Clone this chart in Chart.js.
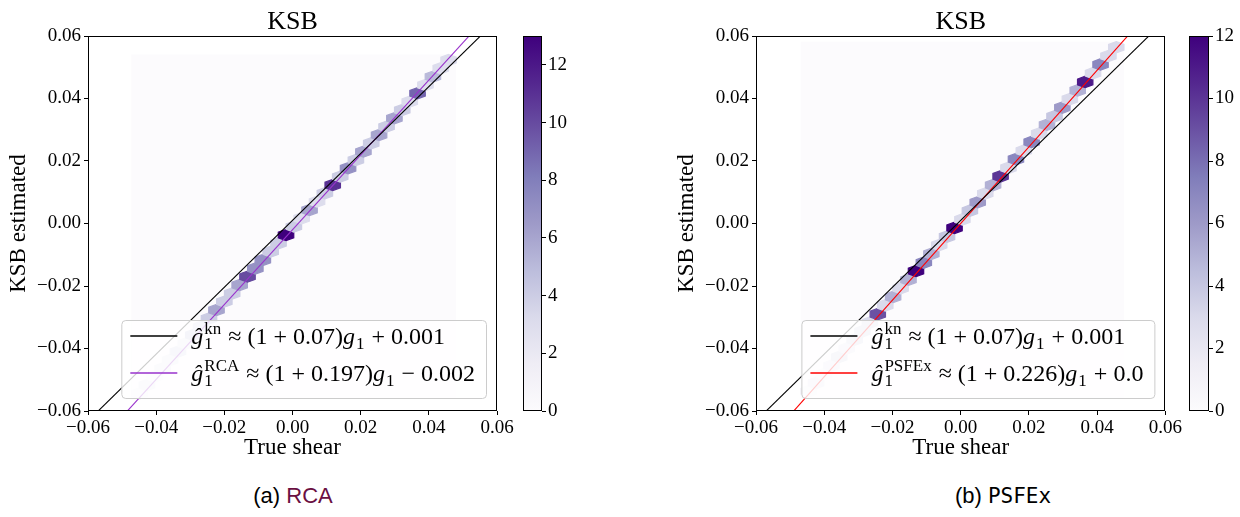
<!DOCTYPE html>
<html>
<head>
<meta charset="utf-8">
<script src="https://cdn.jsdelivr.net/npm/chart.js@4/dist/chart.umd.min.js"></script>
<style>
  body { margin: 0; background: #fff; width: 1240px; height: 517px; position: relative; overflow: hidden; }
  canvas { position: absolute; }
  .cap { position: absolute; top: 483px; font-size: 22px; font-family: "Liberation Sans", Arial, sans-serif; color: #000; white-space: nowrap; transform: translateX(-50%); }
</style>
</head>
<body>
<canvas id="hexRCA" width="517" height="470" style="left:0;top:0"></canvas>
<canvas id="barRCA" width="60" height="430" style="left:510px;top:0"></canvas>
<canvas id="hexPSF" width="516" height="470" style="left:668px;top:0"></canvas>
<canvas id="barPSF" width="64" height="430" style="left:1176px;top:0"></canvas>
<div class="cap" style="left:293px">(a) <span style="color:#6a0f42">RCA</span></div>
<div class="cap" style="left:1003px">(b) <span style="font-family:'DejaVu Sans Mono',monospace;font-size:21px">PSFEx</span></div>

<script>
// ---- data ----
var axisTicks = [-0.06, -0.04, -0.02, 0.0, 0.02, 0.04, 0.06];

// RCA panel: hex cell centres and counts
var rcaHexX = [-0.0449, -0.0427, -0.0404, -0.0381, -0.0359, -0.0336, -0.0313, -0.0291, -0.0268, -0.0245,
               -0.0223, -0.0200, -0.0177, -0.0155, -0.0132, -0.0109, -0.0087, -0.0064, -0.0041, -0.0019,
               0.0004, 0.0027, 0.0050, 0.0072, 0.0095, 0.0118, 0.0140, 0.0163, 0.0186, 0.0208,
               0.0231, 0.0254, 0.0276, 0.0299, 0.0322, 0.0344, 0.0367, 0.0390, 0.0412, 0.0435, 0.0458];
var rcaHexY = [-0.0544, -0.0517, -0.0490, -0.0464, -0.0437, -0.0410, -0.0384, -0.0357, -0.0330, -0.0304,
               -0.0277, -0.0250, -0.0224, -0.0197, -0.0170, -0.0144, -0.0117, -0.0090, -0.0063, -0.0037,
               -0.0010, 0.0017, 0.0043, 0.0070, 0.0097, 0.0123, 0.0150, 0.0177, 0.0203, 0.0230,
               0.0257, 0.0283, 0.0310, 0.0337, 0.0363, 0.0390, 0.0417, 0.0443, 0.0470, 0.0497, 0.0523];
var rcaHexCount = [1, 2, 1, 2, 2, 3, 2, 4, 3, 4,
                   6, 4, 4, 6, 10, 7, 7, 4, 4, 13,
                   4, 3, 6, 3, 4, 11, 4, 7, 4, 6,
                   4, 6, 4, 6, 4, 3, 9, 3, 5, 3, 3];
var rcaEmptyCells = [-0.0473, 0.0480, -0.0561, 0.0541];   // xmin, xmax, ymin, ymax of zero-count cells

// PSFEx panel
var psfHexX = [-0.0446, -0.0424, -0.0401, -0.0379, -0.0356, -0.0334, -0.0311, -0.0288, -0.0266,
               -0.0243, -0.0221, -0.0198, -0.0176, -0.0153, -0.0131, -0.0108, -0.0086, -0.0063, -0.0040,
               -0.0018, 0.0005, 0.0027, 0.0050, 0.0072, 0.0095, 0.0117, 0.0140, 0.0162, 0.0185,
               0.0208, 0.0230, 0.0253, 0.0275, 0.0298, 0.0320, 0.0343, 0.0365, 0.0388, 0.0410, 0.0433, 0.0456];
var psfHexY = [-0.0537, -0.0510, -0.0482, -0.0455, -0.0427, -0.0400, -0.0372, -0.0345, -0.0317,
               -0.0290, -0.0262, -0.0235, -0.0207, -0.0180, -0.0152, -0.0125, -0.0097, -0.0069, -0.0042,
               -0.0014, 0.0013, 0.0041, 0.0068, 0.0096, 0.0123, 0.0151, 0.0178, 0.0206, 0.0233,
               0.0261, 0.0288, 0.0316, 0.0343, 0.0371, 0.0398, 0.0426, 0.0453, 0.0481, 0.0509, 0.0536, 0.0564];
var psfHexCount = [1, 2, 1, 2, 3, 2, 3, 3, 3,
                   9, 3, 5, 3, 5, 12, 7, 5, 3, 4,
                   12, 3, 4, 6, 3, 5, 10, 3, 7, 3,
                   7, 3, 5, 4, 6, 3, 5, 11, 3, 7, 3, 3];
var psfEmptyCells = [-0.0469, 0.0479, -0.0556, 0.0582];

// linear fits: [multiplicative bias, additive bias]
var knFit = [0.07, 0.001];
var rcaFit = [0.197, -0.002];
var psfexFit = [0.226, 0.0];

// colour bars
var rcaBarMax = 13;
var psfBarMax = 12;
var barTicks = [0, 2, 4, 6, 8, 10, 12];

// ---- helpers ----
var SERIF = '"Liberation Serif", "DejaVu Serif", serif';
var purpleStops = ['#fcfbfd', '#efedf5', '#dadaeb', '#bcbddc', '#9e9ac8', '#807dba', '#6a51a3', '#54278f', '#3f007d'];

function hexToRgb(h) {
    return [parseInt(h.substr(1, 2), 16), parseInt(h.substr(3, 2), 16), parseInt(h.substr(5, 2), 16)];
}

function purpleAt(t) {
    t = Math.max(0, Math.min(1, t));
    var p = t * (purpleStops.length - 1);
    var i = Math.min(purpleStops.length - 2, Math.floor(p));
    var f = p - i;
    var a = hexToRgb(purpleStops[i]), b = hexToRgb(purpleStops[i + 1]);
    return 'rgb(' + Math.round(a[0] + (b[0] - a[0]) * f) + ',' +
        Math.round(a[1] + (b[1] - a[1]) * f) + ',' + Math.round(a[2] + (b[2] - a[2]) * f) + ')';
}

function fmtTick(v) {
    if (Math.abs(v) < 1e-9) v = 0;
    var s = Math.abs(v).toFixed(2);
    return v < 0 ? '\u2212' + s : s;
}

function fmtCoef(v) {
    var s = String(Math.abs(v));
    if (s.indexOf('.') < 0) s += '.0';
    return s;
}

function fitParts(name, fit) {
    var sign = fit[1] < 0 ? ' \u2212 ' : ' + ';
    return [
        {t: '\u011d', it: true}, {sup: name, sub: '1'},
        {t: ' \u2248 (1 + ' + fmtCoef(fit[0]) + ')'},
        {t: 'g', it: true}, {sub: '1'},
        {t: sign + fmtCoef(fit[1])}
    ];
}

function fitLine(fit) {
    return [-0.06, 0.06].map(function (x) {
        return {x: x, y: (1 + fit[0]) * x + fit[1]};
    });
}

// draw math-like text made of parts; returns width
function drawParts(ctx, parts, x, y, size, dry) {
    var cx = x;
    parts.forEach(function (p) {
        if (p.t !== undefined) {
            ctx.font = (p.it ? 'italic ' : '') + size + 'px ' + SERIF;
            if (!dry) ctx.fillText(p.t, cx, y);
            cx += ctx.measureText(p.t).width;
        } else {
            var s = Math.round(size * 0.72), w = 0;
            ctx.font = s + 'px ' + SERIF;
            if (p.sup) {
                if (!dry) ctx.fillText(p.sup, cx + 1, y - size * 0.42);
                w = Math.max(w, ctx.measureText(p.sup).width);
            }
            if (p.sub) {
                if (!dry) ctx.fillText(p.sub, cx + 1, y + size * 0.2);
                w = Math.max(w, ctx.measureText(p.sub).width);
            }
            cx += w + 2;
        }
    });
    return cx - x;
}

// hexagonal cells, drawn under the fit lines
var hexPlugin = {
    id: 'hexcells',
    beforeDatasetsDraw: function (chart, args, opts) {
        var ctx = chart.ctx, area = chart.chartArea;
        var xs = chart.scales.x, ys = chart.scales.y;
        ctx.save();
        ctx.beginPath();
        ctx.rect(area.left, area.top, area.width, area.height);
        ctx.clip();

        var e = opts.empty;
        ctx.fillStyle = purpleAt(0);
        ctx.fillRect(xs.getPixelForValue(e[0]), ys.getPixelForValue(e[3]),
            xs.getPixelForValue(e[1]) - xs.getPixelForValue(e[0]),
            ys.getPixelForValue(e[2]) - ys.getPixelForValue(e[3]));

        chart.data.datasets.forEach(function (ds, i) {
            if (!ds.counts) return;
            var meta = chart.getDatasetMeta(i);
            meta.data.forEach(function (pt, j) {
                var raw = ds.data[j];
                var hw = xs.getPixelForValue(raw.x + opts.sx / 2) - pt.x;
                var hp = pt.y - ys.getPixelForValue(raw.y + opts.sy / 3);
                var hs = hp / 2;
                var col = purpleAt(ds.counts[j] / opts.vmax);
                ctx.beginPath();
                ctx.moveTo(pt.x, pt.y - hp);
                ctx.lineTo(pt.x + hw, pt.y - hs);
                ctx.lineTo(pt.x + hw, pt.y + hs);
                ctx.lineTo(pt.x, pt.y + hp);
                ctx.lineTo(pt.x - hw, pt.y + hs);
                ctx.lineTo(pt.x - hw, pt.y - hs);
                ctx.closePath();
                ctx.fillStyle = col;
                ctx.strokeStyle = col;
                ctx.lineWidth = 1.2;
                ctx.fill();
                ctx.stroke();
            });
        });
        ctx.restore();
    }
};

// full box around the axes
var framePlugin = {
    id: 'frame',
    afterDatasetsDraw: function (chart) {
        var a = chart.chartArea, ctx = chart.ctx;
        ctx.save();
        ctx.strokeStyle = '#000';
        ctx.lineWidth = 1;
        ctx.strokeRect(Math.round(a.left) + 0.5, Math.round(a.top) + 0.5,
            Math.round(a.right - a.left) - 1, Math.round(a.bottom - a.top) - 1);
        ctx.restore();
    }
};

// legend with sub/superscripts, lower right of the axes
var mathLegend = {
    id: 'mathLegend',
    afterDraw: function (chart, args, opts) {
        if (!opts.entries) return;
        var ctx = chart.ctx, a = chart.chartArea, size = opts.size;
        ctx.save();
        ctx.textBaseline = 'alphabetic';
        var tw = 0;
        opts.entries.forEach(function (en) {
            tw = Math.max(tw, drawParts(ctx, en.parts, 0, 0, size, true));
        });
        var w = opts.textOffset + tw + opts.padRight;
        var h = opts.height;
        var right = a.right - opts.marginRight, bottom = a.bottom - opts.marginBottom;
        var left = right - w, top = bottom - h;

        ctx.beginPath();
        ctx.roundRect(left + 0.5, top + 0.5, w, h, 4);
        ctx.fillStyle = 'rgba(255,255,255,0.8)';
        ctx.fill();
        ctx.strokeStyle = '#cccccc';
        ctx.lineWidth = 1;
        ctx.stroke();

        opts.entries.forEach(function (en, i) {
            var cy = Math.round(top + opts.firstRow + i * opts.rowGap);
            ctx.beginPath();
            ctx.moveTo(left + opts.handleStart, cy);
            ctx.lineTo(left + opts.handleEnd, cy);
            ctx.strokeStyle = en.color;
            ctx.lineWidth = 1.4;
            ctx.stroke();
            ctx.fillStyle = '#000';
            drawParts(ctx, en.parts, left + opts.textOffset, cy + size * 0.33, size, false);
        });
        ctx.restore();
    }
};

function makeHexChart(id, xs, ys, counts, empty, sx, sy, vmax, fitName, fit, fitColor) {
    var cells = xs.map(function (x, i) { return {x: x, y: ys[i]}; });
    var canvas = document.getElementById(id);
    return new Chart(canvas.getContext('2d'), {
        type: 'scatter',
        data: {
            datasets: [
                {label: 'cells', data: cells, counts: counts, pointRadius: 0, pointHoverRadius: 0},
                {label: 'kn', data: fitLine(knFit), showLine: true, borderColor: '#000', borderWidth: 1.1, pointRadius: 0},
                {label: fitName, data: fitLine(fit), showLine: true, borderColor: fitColor, borderWidth: 1.1, pointRadius: 0}
            ]
        },
        options: {
            responsive: false,
            animation: false,
            events: [],
            layout: {padding: {left: 0, right: canvas.width - 497 + (id === 'hexPSF' ? -1 : 0), top: 0, bottom: 0}},
            scales: {
                x: {
                    type: 'linear', min: -0.06, max: 0.06,
                    afterBuildTicks: function (s) { s.ticks = axisTicks.map(function (v) { return {value: v}; }); },
                    afterFit: function (s) { s.height = 59; },
                    grid: {drawOnChartArea: false, color: '#000', tickLength: 4},
                    border: {display: false},
                    ticks: {color: '#000', padding: 2, maxRotation: 0, font: {family: SERIF, size: 19}, callback: fmtTick},
                    title: {display: true, text: 'True shear', color: '#000', font: {family: SERIF, size: 23}, padding: {top: 0, bottom: 8}}
                },
                x2: {
                    type: 'linear', position: 'top', min: -0.06, max: 0.06,
                    afterFit: function (s) { s.height = 36; },
                    grid: {display: false}, border: {display: false},
                    ticks: {display: false},
                    title: {display: true, text: 'KSB', color: '#000', font: {family: SERIF, size: 26}, padding: {top: 7, bottom: 0}}
                },
                y: {
                    type: 'linear', min: -0.06, max: 0.06,
                    afterBuildTicks: function (s) { s.ticks = axisTicks.map(function (v) { return {value: v}; }); },
                    afterFit: function (s) { s.width = 88; },
                    grid: {drawOnChartArea: false, color: '#000', tickLength: 4},
                    border: {display: false},
                    ticks: {color: '#000', padding: 3, font: {family: SERIF, size: 19}, callback: fmtTick},
                    title: {display: true, text: 'KSB estimated', color: '#000', font: {family: SERIF, size: 23}, padding: {top: 5, bottom: 0}}
                }
            },
            plugins: {
                legend: {display: false},
                tooltip: {enabled: false},
                hexcells: {empty: empty, sx: sx, sy: sy, vmax: vmax},
                mathLegend: {
                    size: 24, height: 78, firstRow: 16, rowGap: 37,
                    handleStart: 9, handleEnd: 56, textOffset: 70, padRight: 11,
                    marginRight: 11, marginBottom: 13,
                    entries: [
                        {color: '#000', parts: fitParts('kn', knFit)},
                        {color: fitColor, parts: fitParts(fitName, fit)}
                    ]
                }
            }
        },
        plugins: [hexPlugin, framePlugin, mathLegend]
    });
}

function makeColorBar(id, vmax, padLeft) {
    var canvas = document.getElementById(id);
    return new Chart(canvas.getContext('2d'), {
        type: 'bar',
        data: {
            labels: [''],
            datasets: [{
                data: [vmax],
                barPercentage: 1, categoryPercentage: 1, borderWidth: 0,
                backgroundColor: function (c) {
                    var a = c.chart.chartArea;
                    if (!a) return purpleAt(0.5);
                    var g = c.chart.ctx.createLinearGradient(0, a.bottom, 0, a.top);
                    purpleStops.forEach(function (col, i) { g.addColorStop(i / (purpleStops.length - 1), col); });
                    return g;
                }
            }]
        },
        options: {
            responsive: false,
            animation: false,
            events: [],
            layout: {padding: {left: padLeft, right: 0, top: 36, bottom: canvas.height - 411}},
            scales: {
                x: {display: false},
                y: {
                    position: 'right', min: 0, max: vmax,
                    afterBuildTicks: function (s) { s.ticks = barTicks.map(function (v) { return {value: v}; }); },
                    afterFit: function (s) { s.width = canvas.width - padLeft - (id === 'barRCA' ? 19 : 20); },
                    grid: {drawOnChartArea: false, color: '#000', tickLength: 4},
                    border: {display: false},
                    ticks: {color: '#000', padding: 2, font: {family: SERIF, size: 19}}
                }
            },
            plugins: {legend: {display: false}, tooltip: {enabled: false}}
        },
        plugins: [framePlugin]
    });
}

makeHexChart('hexRCA', rcaHexX, rcaHexY, rcaHexCount, rcaEmptyCells, 0.00454, 0.00533, rcaBarMax, 'RCA', rcaFit, '#9932cc');
makeHexChart('hexPSF', psfHexX, psfHexY, psfHexCount, psfEmptyCells, 0.00451, 0.0055, psfBarMax, 'PSFEx', psfexFit, '#ff0000');
makeColorBar('barRCA', rcaBarMax, 13);
makeColorBar('barPSF', psfBarMax, 13);
</script>
</body>
</html>
